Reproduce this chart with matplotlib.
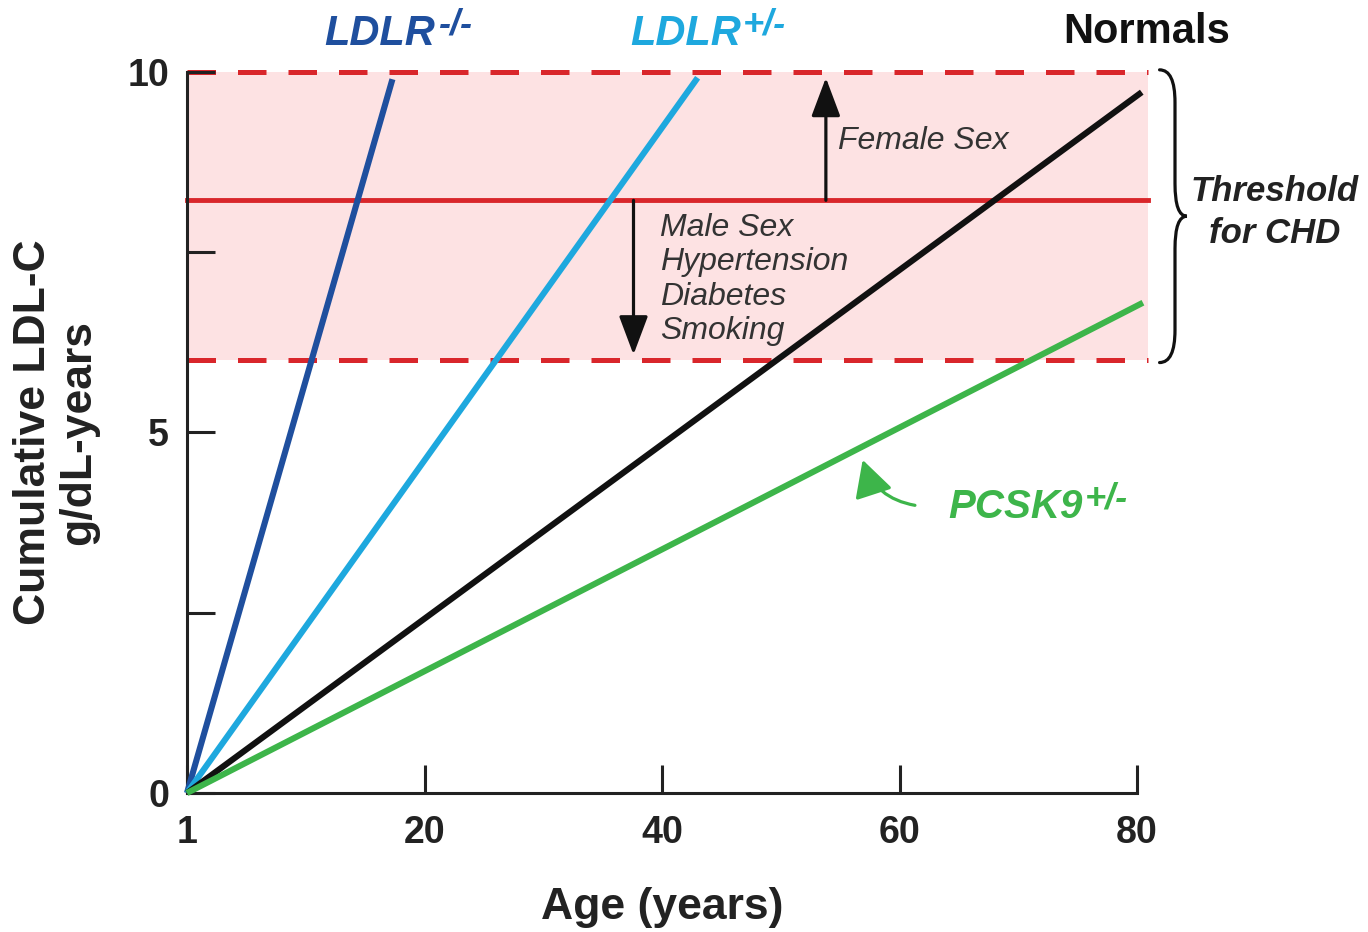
import numpy as np
import matplotlib
matplotlib.use("Agg")
import matplotlib.pyplot as plt
from matplotlib.path import Path
from matplotlib.patches import PathPatch, FancyArrowPatch

plt.rcParams['font.family'] = ['Liberation Sans', 'DejaVu Sans']

# cumulative LDL-C (g/dL-years) vs age, straight lines from birth
age_ldlr_hom = [0, 17.3]
ldl_ldlr_hom = [0, 9.9]
age_ldlr_het = [0, 43.0]
ldl_ldlr_het = [0, 9.92]
age_normal = [0, 80.4]
ldl_normal = [0, 9.72]
age_pcsk9 = [0, 80.5]
ldl_pcsk9 = [0, 6.8]

threshold_mid = 8.22
threshold_low = 6.0
threshold_high = 10.0
band_end = 80.9

xticks = [0, 20, 40, 60, 80]
xtick_labels = ['1', '20', '40', '60', '80']
yticks = [0, 5, 10]
yminor = [2.5, 7.5]

c_hom = '#1f4f9e'
c_het = '#1ea8de'
c_pcsk = '#3db54a'
c_red = '#d9262b'
c_band = '#fde2e3'
c_axis = '#222222'

fig = plt.figure(figsize=(13.68, 9.32), dpi=100)
ax = fig.add_axes([187/1368, 1-793/932, 950/1368, 721/932])
ax.set_xlim(0, 80)
ax.set_ylim(0, 10)

# threshold band
ax.fill_between([0, band_end], threshold_low, threshold_high, color=c_band,
                lw=0, zorder=0, clip_on=False)
ax.plot([0, band_end], [threshold_mid]*2, color=c_red, lw=3.5, zorder=1, clip_on=False)
for yv in (threshold_low, threshold_high):
    ax.plot([0, band_end], [yv]*2, color=c_red, lw=3.6, dashes=(5.7, 4.4),
            dash_capstyle='butt', zorder=1, clip_on=False)

# data lines
for xs, ys, col in [(age_ldlr_hom, ldl_ldlr_hom, c_hom),
                    (age_ldlr_het, ldl_ldlr_het, c_het),
                    (age_normal, ldl_normal, '#111111'),
                    (age_pcsk9, ldl_pcsk9, c_pcsk)]:
    ax.plot(xs, ys, color=col, lw=4.4, solid_capstyle='butt', zorder=3, clip_on=False)

# axes styling
for s in ('top', 'right'):
    ax.spines[s].set_visible(False)
for s in ('left', 'bottom'):
    ax.spines[s].set_linewidth(2.2)
    ax.spines[s].set_color(c_axis)
ax.set_xticks(xticks)
ax.set_xticklabels(xtick_labels)
ax.set_yticks(yticks)
ax.set_yticks(yminor, minor=True)
ax.tick_params(which='both', direction='in', length=20, width=2.2, color=c_axis)
ax.tick_params(axis='x', pad=16, labelsize=27)
ax.tick_params(axis='y', pad=13, labelsize=27)
for lab in ax.get_xticklabels() + ax.get_yticklabels():
    lab.set_fontweight('bold')
    lab.set_color(c_axis)

ax.set_xlabel('Age (years)', fontsize=32, fontweight='bold', color=c_axis, labelpad=26)
ax.set_ylabel('Cumulative LDL-C\ng/dL-years', fontsize=32, fontweight='bold',
              color=c_axis, labelpad=20, linespacing=1.15)

# risk factor arrows
arr = dict(arrowstyle='-|>,head_length=0.8,head_width=0.3', mutation_scale=30,
           lw=2.3, color='#111111', shrinkA=0, shrinkB=0, zorder=4)
ax.add_patch(FancyArrowPatch((53.8, threshold_mid), (53.8, 9.92), **arr))
ax.add_patch(FancyArrowPatch((37.6, threshold_mid), (37.6, 6.08), **arr))
ax.text(54.8, 9.04, 'Female Sex', fontsize=23, style='italic', color='#333333',
        va='center', ha='left', zorder=5)
ax.text(39.8, 8.05, 'Male Sex\nHypertension\nDiabetes\nSmoking', fontsize=23,
        style='italic', color='#333333', va='top', ha='left', linespacing=1.2, zorder=5)

# series labels
def label_with_sup(x, y, main, sup, col, size, supsize):
    t = ax.text(x, y, main, fontsize=size, fontweight='bold', style='italic',
                color=col, ha='left', va='center', clip_on=False)
    ax.annotate(sup, xy=(1.02, 1.16), xycoords=t, fontsize=supsize, fontweight='bold',
                style='italic', color=col, ha='left', va='top', annotation_clip=False)
    return t

label_with_sup(11.6, 10.53, 'LDLR', '-/-', c_hom, 30, 26)
label_with_sup(37.3, 10.53, 'LDLR', '+/-', c_het, 30, 26)
ax.text(80.8, 10.55, 'Normals', fontsize=30, fontweight='bold', color='#111111',
        ha='center', va='center', clip_on=False)
label_with_sup(64.1, 3.97, 'PCSK9', '+/-', c_pcsk, 29, 26)

ax.add_patch(FancyArrowPatch((61.3, 3.99), (56.9, 4.62),
                             arrowstyle='-|>,head_length=0.75,head_width=0.4',
                             mutation_scale=30, lw=2.3, color=c_pcsk,
                             connectionstyle='arc3,rad=-0.3', shrinkA=0, shrinkB=0,
                             clip_on=False, zorder=4))

# brace for threshold
def brace(x_tip, x_stem, x_point, y0, y1, d):
    ym = (y0 + y1) / 2
    verts = [(x_tip, y1), (x_stem, y1), (x_stem, y1 - d),
             (x_stem, ym + d),
             (x_stem, ym), (x_point, ym),
             (x_stem, ym), (x_stem, ym - d),
             (x_stem, y0 + d),
             (x_stem, y0), (x_tip, y0)]
    codes = [Path.MOVETO, Path.CURVE3, Path.CURVE3,
             Path.LINETO,
             Path.CURVE3, Path.CURVE3,
             Path.CURVE3, Path.CURVE3,
             Path.LINETO,
             Path.CURVE3, Path.CURVE3]
    return Path(verts, codes)

ax.add_patch(PathPatch(brace(81.9, 83.2, 84.2, 5.97, 10.03, 0.45), fill=False, lw=2.3,
                       color='#111111', clip_on=False, capstyle='round'))
ax.text(91.6, 8.05, 'Threshold\nfor CHD', fontsize=25, fontweight='bold', style='italic',
        color='#222222', ha='center', va='center', linespacing=1.35, clip_on=False)

fig.savefig('out.png', dpi=100)
